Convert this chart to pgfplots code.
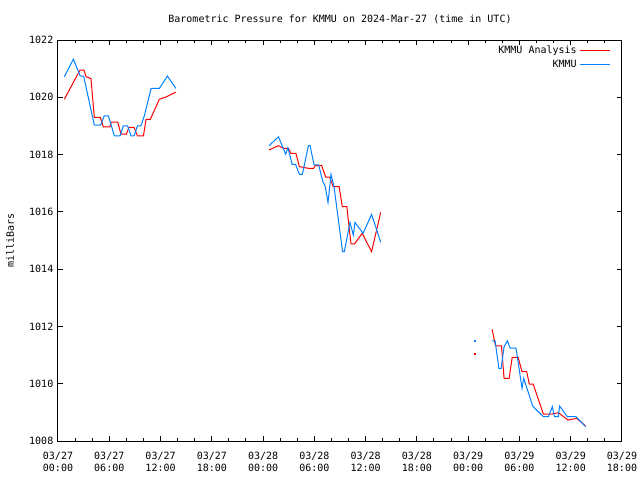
\documentclass[border=0pt]{standalone}
\usepackage{fontspec}
\setmainfont{DejaVu Sans Mono}
\usepackage{pgfplots}
\pgfplotsset{compat=1.18}
\definecolor{ared}{RGB}{255,0,0}
\definecolor{kblue}{RGB}{0,128,255}
\begin{document}
\begin{tikzpicture}
\begin{axis}[
  name=ax,
  at={(0pt,0pt)}, anchor=south west,
  scale only axis, width=423pt, height=300.75pt,
  font=\fontsize{7.5pt}{9pt}\selectfont,
  xmin=0, xmax=66, ymin=1008, ymax=1022,
  xtick={0,6,...,66}, minor x tick num=2,
  ytick={1008,1010,...,1022},
  xticklabels={{03/27\\00:00},{03/27\\06:00},{03/27\\12:00},{03/27\\18:00},{03/28\\00:00},{03/28\\06:00},{03/28\\12:00},{03/28\\18:00},{03/29\\00:00},{03/29\\06:00},{03/29\\12:00},{03/29\\18:00}},
  xticklabel style={align=center, font=\fontsize{7.5pt}{9pt}\selectfont, yshift=-4.5pt},
  yticklabel style={font=\fontsize{7.5pt}{9pt}\selectfont},
  /pgf/number format/assume math mode=true,
  /pgf/number format/1000 sep={},
  tick align=inside, tick pos=both,
  major tick length=3.8pt, minor tick length=2pt,
  axis line style={line width=0.75pt},
  every tick/.style={line width=0.75pt, black},
  ylabel={milliBars},
  ylabel style={at={(axis description cs:-0.085,0.5)}, anchor=center, rotate=0},
  title={Barometric Pressure for KMMU on 2024-Mar-27 (time in UTC)},
  every axis title shift=0pt,
  title style={at={(axis description cs:0.5,1.052)}, anchor=center},
  legend plot pos=right,
  legend cell align=right,
  legend style={at={(axis description cs:0.9822,0.9955)}, anchor=north east, draw=none, fill=none,
    font=\fontsize{7.5pt}{9pt}\selectfont, row sep=-0.75pt, inner sep=1pt},
  legend image code/.code={\draw[#1] (1.5pt,0pt) -- (24pt,0pt);},
]
\addplot[ared, line width=0.75pt] coordinates {
(0.74,1019.93)(2.57,1020.95)(3.04,1020.95)(3.28,1020.72)(3.86,1020.65)(4.25,1019.30)(4.95,1019.30)(5.3,1018.97)(6.08,1018.97)(6.2,1019.13)(7.0,1019.13)(7.37,1018.71)(8.0,1018.71)(8.3,1018.95)(8.9,1018.95)(9.3,1018.65)(10.0,1018.65)(10.3,1019.23)(10.8,1019.23)(11.86,1019.93)(12.7,1020.02)(13.8,1020.18)

(24.7,1018.16)(25.78,1018.31)(26.37,1018.22)(26.95,1018.22)(27.27,1018.04)(27.85,1018.04)(28.24,1017.58)(28.8,1017.55)(29.3,1017.52)(29.9,1017.52)(30.1,1017.61)(30.86,1017.61)(31.33,1017.21)(31.8,1017.21)(32.2,1016.88)(32.9,1016.88)(33.27,1016.18)(33.8,1016.18)(34.29,1014.88)(34.7,1014.88)(35.6,1015.25)(36.7,1014.61)(37.76,1015.98)

(50.8,1011.9)(51.2,1011.32)(51.9,1011.32)(52.2,1010.19)(52.8,1010.19)(53.15,1010.92)(53.85,1010.92)(54.3,1010.42)(54.85,1010.42)(55.15,1009.99)(55.6,1009.99)(56.8,1008.94)(57.8,1008.94)(58.55,1008.99)(59.7,1008.73)(60.7,1008.79)(61.75,1008.52)
};
\addlegendentry{KMMU Analysis}
\addplot[kblue, line width=0.75pt] coordinates {
(0.74,1020.72)(1.8,1021.33)(2.6,1020.74)(3.0,1020.74)(4.25,1019.03)(5.0,1019.03)(5.4,1019.35)(5.9,1019.35)(6.6,1018.65)(7.26,1018.65)(7.65,1019.0)(8.15,1019.0)(8.55,1018.65)(8.9,1018.65)(9.3,1019.0)(9.7,1019.0)(10.1,1019.35)(10.9,1020.31)(11.86,1020.31)(12.8,1020.74)(13.8,1020.31)

(24.7,1018.31)(25.8,1018.62)(26.65,1018.01)(26.9,1018.24)(27.4,1017.66)(27.8,1017.66)(28.25,1017.31)(28.6,1017.31)(29.3,1018.31)(29.5,1018.31)(29.96,1017.64)(30.5,1017.64)(31.0,1017.05)(31.25,1016.91)(31.6,1016.33)(31.95,1017.31)(32.3,1016.88)(33.3,1014.61)(33.5,1014.61)(34.17,1015.63)(34.56,1015.19)(34.75,1015.63)(35.7,1015.25)(36.7,1015.91)(37.76,1014.94)

(50.8,1011.5)(51.15,1011.5)(51.35,1011.06)(51.6,1010.53)(51.85,1010.53)(52.2,1011.29)(52.6,1011.5)(52.9,1011.24)(53.6,1011.24)(54.3,1009.84)(54.5,1010.19)(55.55,1009.22)(56.8,1008.85)(57.4,1008.85)(57.85,1009.2)(58.1,1008.85)(58.55,1008.85)(58.7,1009.22)(59.6,1008.85)(60.6,1008.85)(61.75,1008.5)
};
\addlegendentry{KMMU}
\addplot[ared, only marks, mark=square*, mark size=0.4pt, forget plot] coordinates {(48.8,1011.04)};
\addplot[kblue, only marks, mark=square*, mark size=0.4pt, forget plot] coordinates {(48.8,1011.5)};
\end{axis}
\pgfresetboundingbox
\path (ax.south west) ++(-43.5pt,-29.25pt) rectangle ++(480pt,360pt);
\end{tikzpicture}
\end{document}
